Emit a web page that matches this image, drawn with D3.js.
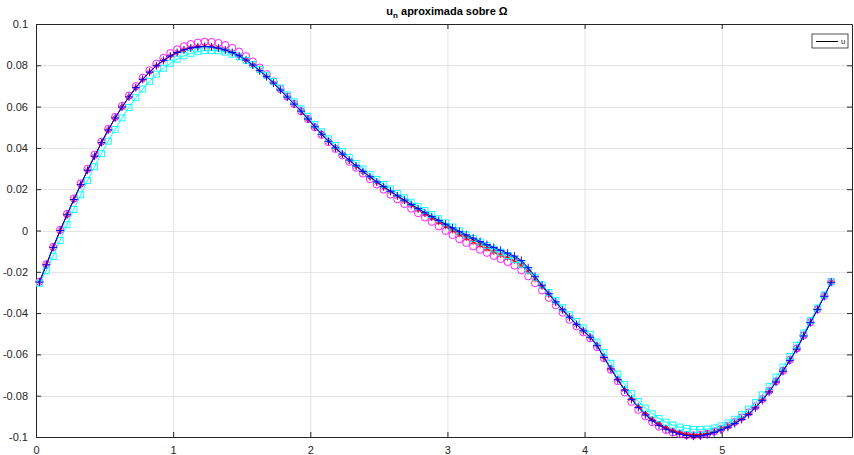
<!DOCTYPE html>
<html>
<head>
<meta charset="utf-8">
<script src="https://cdn.jsdelivr.net/npm/d3@7/dist/d3.min.js"></script>
<style>
  body { margin: 0; background: #fff; }
  svg { display: block; font-family: "Liberation Sans", Arial, sans-serif; }
</style>
</head>
<body>
<div id="chart"></div>
<script>
// Set dimensions and margins for the plot
const width = 854;
const height = 455;
const margin = {left: 36, right: 2, top: 24, bottom: 18};

// Grid of nodes (x values)
const xs = [0.025,0.075,0.125,0.176,0.226,0.276,0.326,0.376,0.427,0.477,
  0.527,0.577,0.627,0.678,0.728,0.778,0.828,0.878,0.929,0.979,
  1.029,1.079,1.129,1.180,1.230,1.280,1.330,1.380,1.431,1.481,
  1.531,1.581,1.631,1.682,1.732,1.782,1.832,1.882,1.933,1.983,
  2.033,2.083,2.133,2.184,2.234,2.284,2.334,2.384,2.435,2.485,
  2.535,2.585,2.635,2.686,2.736,2.786,2.836,2.886,2.937,2.987,
  3.037,3.087,3.137,3.188,3.238,3.288,3.338,3.388,3.439,3.489,
  3.539,3.589,3.639,3.690,3.740,3.790,3.840,3.890,3.941,3.991,
  4.041,4.091,4.141,4.192,4.242,4.292,4.342,4.392,4.443,4.493,
  4.543,4.593,4.643,4.694,4.744,4.794,4.844,4.894,4.945,4.995,
  5.045,5.095,5.145,5.196,5.246,5.296,5.346,5.396,5.447,5.497,
  5.547,5.597,5.647,5.698,5.748,5.798];

// exact solution u (black line)
const uExact = [-0.0250,-0.0166,-0.0082,0.0000,0.0076,0.0150,0.0222,0.0292,0.0360,0.0425,
  0.0487,0.0545,0.0598,0.0647,0.0692,0.0732,0.0767,0.0798,0.0824,0.0845,
  0.0862,0.0875,0.0884,0.0889,0.0891,0.0889,0.0883,0.0874,0.0862,0.0846,
  0.0825,0.0801,0.0774,0.0745,0.0714,0.0680,0.0646,0.0612,0.0578,0.0540,
  0.0502,0.0466,0.0432,0.0400,0.0370,0.0341,0.0313,0.0286,0.0260,0.0235,
  0.0212,0.0190,0.0168,0.0147,0.0126,0.0106,0.0086,0.0066,0.0047,0.0028,
  0.0008,-0.0010,-0.0028,-0.0045,-0.0061,-0.0077,-0.0091,-0.0105,-0.0118,-0.0131,
  -0.0152,-0.0185,-0.0226,-0.0268,-0.0308,-0.0348,-0.0385,-0.0420,-0.0455,-0.0485,
  -0.0515,-0.0555,-0.0612,-0.0668,-0.0720,-0.0770,-0.0815,-0.0853,-0.0889,-0.0917,
  -0.0940,-0.0958,-0.0972,-0.0982,-0.0989,-0.0992,-0.0991,-0.0985,-0.0975,-0.0962,
  -0.0950,-0.0932,-0.0912,-0.0888,-0.0856,-0.0820,-0.0780,-0.0732,-0.0680,-0.0628,
  -0.0574,-0.0510,-0.0445,-0.0382,-0.0318,-0.0250];

// approximation with red '*'
const uRed = [-0.0250,-0.0166,-0.0082,0.0000,0.0076,0.0150,0.0222,0.0292,0.0360,0.0425,
  0.0487,0.0545,0.0598,0.0647,0.0692,0.0732,0.0767,0.0798,0.0824,0.0845,
  0.0862,0.0875,0.0884,0.0890,0.0892,0.0890,0.0884,0.0875,0.0862,0.0846,
  0.0825,0.0801,0.0774,0.0745,0.0714,0.0680,0.0646,0.0612,0.0577,0.0539,
  0.0501,0.0465,0.0431,0.0398,0.0368,0.0339,0.0311,0.0284,0.0258,0.0233,
  0.0209,0.0187,0.0165,0.0143,0.0122,0.0101,0.0080,0.0060,0.0040,0.0020,
  0.0000,-0.0019,-0.0037,-0.0055,-0.0072,-0.0089,-0.0104,-0.0118,-0.0132,-0.0147,
  -0.0168,-0.0198,-0.0236,-0.0272,-0.0310,-0.0349,-0.0386,-0.0421,-0.0456,-0.0486,
  -0.0516,-0.0556,-0.0613,-0.0669,-0.0721,-0.0770,-0.0814,-0.0852,-0.0887,-0.0914,
  -0.0937,-0.0955,-0.0969,-0.0979,-0.0986,-0.0989,-0.0988,-0.0982,-0.0973,-0.0960,
  -0.0948,-0.0930,-0.0910,-0.0886,-0.0855,-0.0819,-0.0779,-0.0731,-0.0679,-0.0627,
  -0.0573,-0.0509,-0.0444,-0.0381,-0.0317,-0.0249];

// approximation with magenta 'o'
const uMag = [-0.0248,-0.0164,-0.0080,0.0003,0.0080,0.0155,0.0228,0.0299,0.0367,0.0430,
  0.0492,0.0550,0.0603,0.0653,0.0699,0.0740,0.0776,0.0808,0.0836,0.0859,
  0.0877,0.0892,0.0903,0.0910,0.0914,0.0913,0.0908,0.0898,0.0884,0.0866,
  0.0844,0.0818,0.0789,0.0757,0.0722,0.0686,0.0649,0.0613,0.0577,0.0540,
  0.0500,0.0463,0.0428,0.0395,0.0364,0.0333,0.0304,0.0276,0.0249,0.0223,
  0.0198,0.0174,0.0151,0.0128,0.0106,0.0084,0.0063,0.0042,0.0020,-0.0002,
  -0.0022,-0.0042,-0.0060,-0.0077,-0.0093,-0.0108,-0.0123,-0.0138,-0.0153,-0.0170,
  -0.0193,-0.0222,-0.0255,-0.0290,-0.0326,-0.0362,-0.0398,-0.0432,-0.0464,-0.0493,
  -0.0522,-0.0565,-0.0618,-0.0674,-0.0730,-0.0784,-0.0830,-0.0868,-0.0900,-0.0928,
  -0.0950,-0.0966,-0.0978,-0.0986,-0.0991,-0.0992,-0.0990,-0.0984,-0.0973,-0.0960,
  -0.0945,-0.0927,-0.0906,-0.0881,-0.0851,-0.0816,-0.0776,-0.0730,-0.0679,-0.0626,
  -0.0571,-0.0508,-0.0444,-0.0381,-0.0317,-0.0249];

// approximation with blue '+'
const uBlue = [-0.0250,-0.0166,-0.0082,0.0000,0.0076,0.0150,0.0222,0.0292,0.0360,0.0425,
  0.0487,0.0545,0.0598,0.0647,0.0692,0.0732,0.0767,0.0798,0.0824,0.0845,
  0.0862,0.0875,0.0884,0.0889,0.0891,0.0889,0.0883,0.0874,0.0862,0.0846,
  0.0825,0.0801,0.0774,0.0745,0.0714,0.0680,0.0646,0.0612,0.0578,0.0540,
  0.0502,0.0466,0.0432,0.0400,0.0370,0.0341,0.0313,0.0286,0.0260,0.0235,
  0.0212,0.0190,0.0168,0.0147,0.0126,0.0106,0.0086,0.0067,0.0049,0.0031,
  0.0013,-0.0004,-0.0021,-0.0037,-0.0053,-0.0068,-0.0082,-0.0096,-0.0110,-0.0124,
  -0.0145,-0.0180,-0.0222,-0.0265,-0.0306,-0.0346,-0.0384,-0.0420,-0.0455,-0.0486,
  -0.0517,-0.0558,-0.0615,-0.0671,-0.0723,-0.0773,-0.0818,-0.0857,-0.0893,-0.0921,
  -0.0944,-0.0962,-0.0976,-0.0986,-0.0993,-0.0996,-0.0995,-0.0989,-0.0979,-0.0966,
  -0.0953,-0.0935,-0.0915,-0.0891,-0.0859,-0.0823,-0.0782,-0.0734,-0.0682,-0.0630,
  -0.0575,-0.0511,-0.0446,-0.0383,-0.0319,-0.0251];

// approximation with cyan squares
const uCyan = [-0.0255,-0.0195,-0.0125,-0.0048,0.0028,0.0102,0.0173,0.0242,0.0309,0.0372,
  0.0433,0.0490,0.0545,0.0596,0.0643,0.0685,0.0723,0.0757,0.0786,0.0810,
  0.0830,0.0846,0.0858,0.0866,0.0871,0.0872,0.0870,0.0864,0.0854,0.0841,
  0.0824,0.0803,0.0779,0.0752,0.0722,0.0690,0.0657,0.0623,0.0589,0.0553,
  0.0514,0.0478,0.0444,0.0412,0.0382,0.0353,0.0325,0.0298,0.0272,0.0247,
  0.0223,0.0201,0.0179,0.0158,0.0137,0.0117,0.0097,0.0077,0.0057,0.0037,
  0.0017,-0.0002,-0.0021,-0.0039,-0.0056,-0.0073,-0.0089,-0.0105,-0.0121,-0.0140,
  -0.0163,-0.0192,-0.0226,-0.0263,-0.0300,-0.0338,-0.0374,-0.0408,-0.0441,-0.0472,
  -0.0502,-0.0540,-0.0590,-0.0643,-0.0695,-0.0745,-0.0790,-0.0828,-0.0860,-0.0888,
  -0.0910,-0.0928,-0.0942,-0.0952,-0.0959,-0.0963,-0.0964,-0.0962,-0.0956,-0.0946,
  -0.0932,-0.0914,-0.0892,-0.0865,-0.0833,-0.0796,-0.0755,-0.0710,-0.0661,-0.0610,
  -0.0556,-0.0497,-0.0436,-0.0375,-0.0312,-0.0248];

const xTicks = [0, 1, 2, 3, 4, 5];
const yTicks = [-0.1, -0.08, -0.06, -0.04, -0.02, 0, 0.02, 0.04, 0.06, 0.08, 0.1];
const legendLabels = ["u"];

const axisColor = "#262626";
const gridColor = "#e3e3e3";

const svg = d3.select("#chart")
  .append("svg")
  .attr("width", width)
  .attr("height", height);

const xScale = d3.scaleLinear()
  .domain([0, 5.95])
  .range([margin.left, width - margin.right]);

const yScale = d3.scaleLinear()
  .domain([-0.1, 0.1])
  .range([height - margin.bottom, margin.top]);

const x0 = margin.left, x1 = width - margin.right;
const y0 = height - margin.bottom, y1 = margin.top;

// grid lines
svg.append("g").selectAll("line.vg")
  .data(xTicks.slice(1))
  .enter().append("line")
    .attr("x1", d => xScale(d) + 0.5).attr("x2", d => xScale(d) + 0.5)
    .attr("y1", y1).attr("y2", y0)
    .attr("stroke", gridColor).attr("stroke-width", 1);

svg.append("g").selectAll("line.hg")
  .data(yTicks.slice(1, -1))
  .enter().append("line")
    .attr("x1", x0).attr("x2", x1)
    .attr("y1", d => Math.round(yScale(d)) + 0.5).attr("y2", d => Math.round(yScale(d)) + 0.5)
    .attr("stroke", gridColor).attr("stroke-width", 1);

// axes (box with inward ticks, like matlab)
const fmt = d => String(+d.toFixed(2));

svg.append("g")
  .attr("transform", `translate(0,${y0})`)
  .call(d3.axisBottom(xScale).tickValues(xTicks).tickSizeInner(-5).tickSizeOuter(0).tickPadding(9).tickFormat(fmt))
  .call(g => g.selectAll("text").attr("font-size", "11px").attr("fill", axisColor));

svg.append("g")
  .attr("transform", `translate(0,${y1})`)
  .call(d3.axisTop(xScale).tickValues(xTicks).tickSizeInner(-5).tickSizeOuter(0).tickFormat(""));

svg.append("g")
  .attr("transform", `translate(${x0},0)`)
  .call(d3.axisLeft(yScale).tickValues(yTicks).tickSizeInner(-5).tickSizeOuter(0).tickPadding(8).tickFormat(fmt))
  .call(g => g.selectAll("text").attr("font-size", "11px").attr("fill", axisColor));

svg.append("g")
  .attr("transform", `translate(${x1},0)`)
  .call(d3.axisRight(yScale).tickValues(yTicks).tickSizeInner(-5).tickSizeOuter(0).tickFormat(""));

svg.selectAll(".domain").attr("stroke", axisColor);
svg.selectAll(".tick line").attr("stroke", axisColor);

// series
const line = vals => d3.line()
  .x((d, i) => xScale(xs[i]))
  .y(d => yScale(d))(vals);

const plot = svg.append("g");

// black exact solution
plot.append("path").attr("d", line(uExact))
  .attr("fill", "none").attr("stroke", "#000").attr("stroke-width", 1);

// magenta circles
plot.append("g").selectAll("circle")
  .data(uMag).enter().append("circle")
    .attr("cx", (d, i) => xScale(xs[i]))
    .attr("cy", d => yScale(d))
    .attr("r", 3.6)
    .attr("fill", "none").attr("stroke", "#ff00ff").attr("stroke-width", 0.9);

// red line with '*'
plot.append("path").attr("d", line(uRed))
  .attr("fill", "none").attr("stroke", "#ff0000").attr("stroke-width", 1);
plot.append("g").selectAll("path")
  .data(uRed).enter().append("path")
    .attr("d", (d, i) => {
      const cx = xScale(xs[i]), cy = yScale(d), r = 3, q = 2.2;
      return `M${cx - r},${cy}H${cx + r}M${cx},${cy - r}V${cy + r}` +
             `M${cx - q},${cy - q}L${cx + q},${cy + q}M${cx - q},${cy + q}L${cx + q},${cy - q}`;
    })
    .attr("fill", "none").attr("stroke", "#ff0000").attr("stroke-width", 0.9);

// cyan line with squares
plot.append("path").attr("d", line(uCyan))
  .attr("fill", "none").attr("stroke", "#00ffff").attr("stroke-width", 1);
plot.append("g").selectAll("rect")
  .data(uCyan).enter().append("rect")
    .attr("x", (d, i) => xScale(xs[i]) - 3)
    .attr("y", d => yScale(d) - 3)
    .attr("width", 6).attr("height", 6)
    .attr("fill", "none").attr("stroke", "#00ffff").attr("stroke-width", 0.9);

// blue line with '+'
plot.append("path").attr("d", line(uBlue))
  .attr("fill", "none").attr("stroke", "#0000ff").attr("stroke-width", 1);
plot.append("g").selectAll("path")
  .data(uBlue).enter().append("path")
    .attr("d", (d, i) => {
      const cx = xScale(xs[i]), cy = yScale(d), r = 4;
      return `M${cx - r},${cy}H${cx + r}M${cx},${cy - r}V${cy + r}`;
    })
    .attr("fill", "none").attr("stroke", "#0000ff").attr("stroke-width", 0.9);

// title
const title = svg.append("text")
  .attr("x", (x0 + x1) / 2 + 3)
  .attr("y", 15)
  .attr("text-anchor", "middle")
  .attr("font-size", "11px")
  .attr("font-weight", "bold")
  .attr("fill", "#000");
title.append("tspan").text("u");
title.append("tspan").attr("font-size", "8px").attr("dy", 3).text("n");
title.append("tspan").attr("dy", -3).text(" aproximada sobre Ω");

// legend
const leg = svg.append("g").attr("transform", "translate(812,34)");
leg.append("rect").attr("x", 0).attr("y", 0).attr("width", 36).attr("height", 14)
  .attr("fill", "#fff").attr("stroke", axisColor).attr("stroke-width", 0.8);
leg.append("line").attr("x1", 4).attr("x2", 26).attr("y1", 7.5).attr("y2", 7.5)
  .attr("stroke", "#000").attr("stroke-width", 1);
leg.selectAll("text.lbl").data(legendLabels).enter().append("text")
  .attr("x", 29).attr("y", 10)
  .attr("font-size", "8px").attr("fill", axisColor)
  .text(d => d);
</script>
</body>
</html>
